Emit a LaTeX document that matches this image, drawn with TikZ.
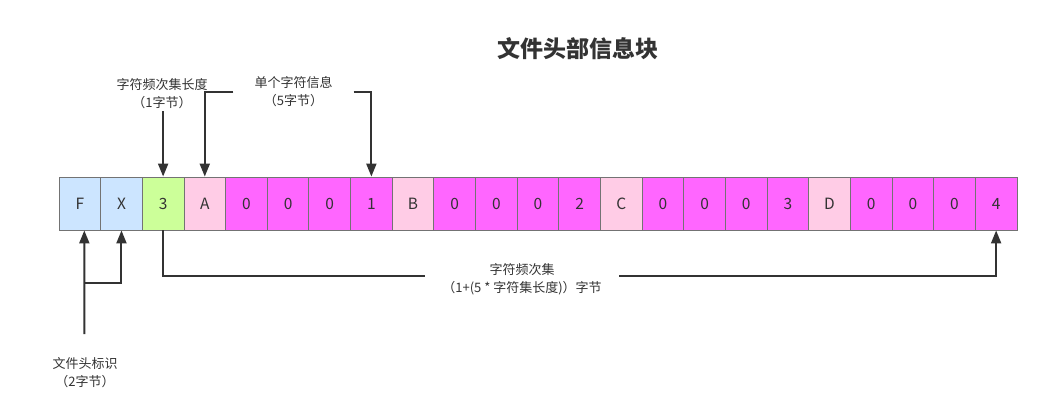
\documentclass[tikz,border=0pt]{standalone}
\usepackage{fontspec}
\setmainfont{Noto Sans CJK SC}
\usetikzlibrary{arrows.meta}
\definecolor{ink}{HTML}{333333}
\definecolor{cellline}{HTML}{737373}
\definecolor{cb}{HTML}{CCE5FF}
\definecolor{cg}{HTML}{CCFF99}
\definecolor{cp}{HTML}{FFCCE6}
\definecolor{cm}{HTML}{FF66FF}
\tikzset{
  cell/.style={draw=cellline, line width=0.9pt, minimum width=41.65pt, minimum height=53pt,
    inner sep=0pt, text=ink, font=\fontsize{15.5}{17}\selectfont},
  lab/.style={align=center, text=ink, font=\fontsize{13}{18}\selectfont, inner sep=2pt},
  arr/.style={draw=ink, line width=2pt, -{Triangle[length=13pt,width=10pt]}},
  titlestyle/.style={text=ink, font=\fontsize{23}{27}\selectfont\bfseries}
}
\begin{document}
\begin{tikzpicture}[x=1pt,y=-1pt]
\useasboundingbox (0,0) rectangle (1040,416);
\fill[white] (0,0) rectangle (1040,416);

\node[titlestyle] (title) at (578,49) {文件头部信息块};

\foreach \t/\c [count=\i from 0] in {F/cb,X/cb,3/cg,A/cp,0/cm,0/cm,0/cm,1/cm,B/cp,0/cm,0/cm,0/cm,2/cm,C/cp,0/cm,0/cm,0/cm,3/cm,D/cp,0/cm,0/cm,0/cm,4/cm}
  \node[cell, fill=\c] (c\i) at ({59+(\i+0.5)*41.65},203.5) {\t};

% length label
\node[lab] (lenlab) at (162,94) {字符频次集长度\\（1字节）};
\draw[arr] (c2.north |- lenlab.south) -- (c2.north);

% unit label
\node[lab, inner xsep=21pt] (unitlab) at (293.5,92) {单个字符信息\\（5字节）};
\draw[arr] (unitlab.west) -| (c3.north);
\draw[arr] (unitlab.east) -| (c7.north);

% header label
\node[lab] (hdrlab) at (85,373) {文件头标识\\（2字节）};
\coordinate (hs) at (84.3,334);
\coordinate (hj) at (84.3,283);
\draw[arr] (hs) -- ([xshift=4.5pt]c0.south);
\draw[arr] (hj) -| (c1.south);

% frequency set connector
\coordinate (fs) at ([yshift=-45.3pt]c2.south);
\draw[arr] (c2.south) -- (fs) -| (c22.south);
\node[lab, fill=white, inner xsep=17pt, inner ysep=0pt] (freqlab) at (522,279) {字符频次集\\（1+(5 * 字符集长度)）字节};
\end{tikzpicture}
\end{document}
